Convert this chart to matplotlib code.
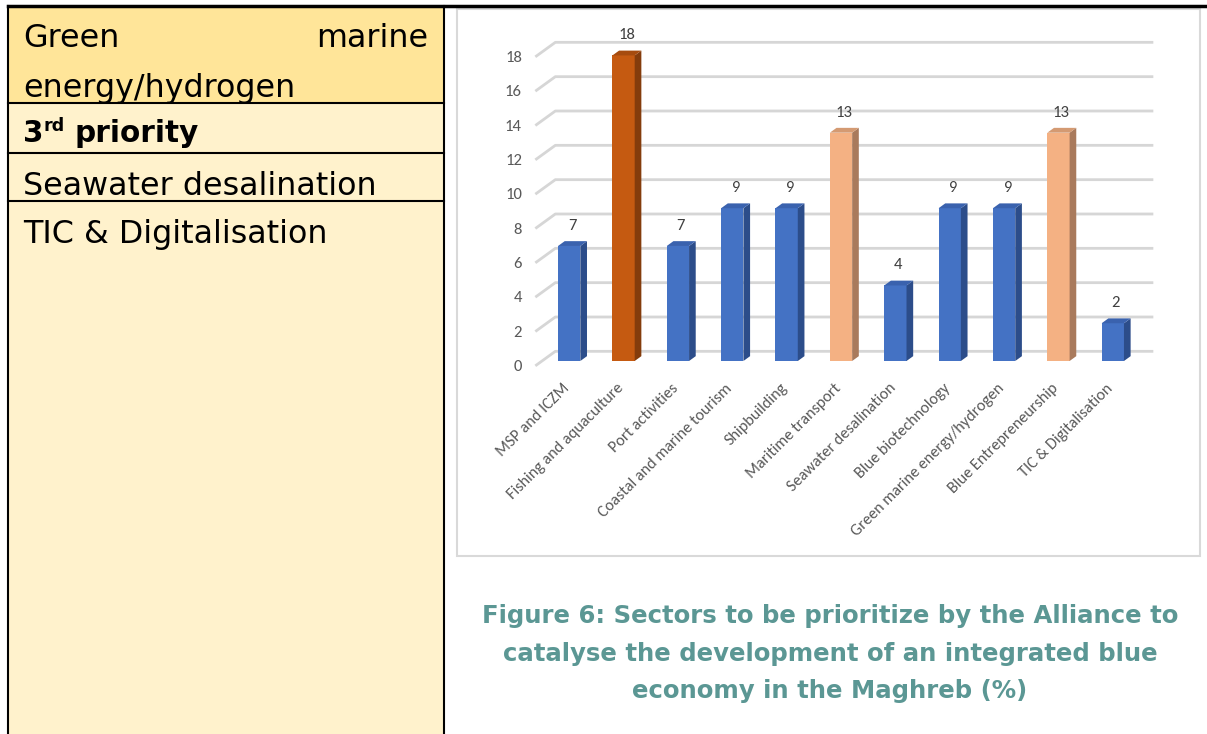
import matplotlib
matplotlib.use("Agg")  # headless
import matplotlib.pyplot as plt
from matplotlib import font_manager
from matplotlib.patches import Polygon, Rectangle

# ------------------------------------------------------------------
# Data (share of answers, %)
# ------------------------------------------------------------------
sectors = [
    "MSP and ICZM",
    "Fishing and aquaculture",
    "Port activities",
    "Coastal and marine tourism",
    "Shipbuilding",
    "Maritime transport",
    "Seawater desalination",
    "Blue biotechnology",
    "Green marine energy/hydrogen",
    "Blue Entrepreneurship",
    "TIC & Digitalisation",
]
shares = [6.7, 17.8, 6.7, 8.9, 8.9, 13.3, 4.4, 8.9, 8.9, 13.3, 2.2]
rank = ["other", "first", "other", "other", "other", "second",
        "other", "other", "other", "second", "other"]
y_ticks = [0, 2, 4, 6, 8, 10, 12, 14, 16, 18]

table_first = ("Green", "marine", "energy/hydrogen")
table_rows = ["Seawater desalination", "TIC & Digitalisation"]
caption_lines = [
    "Figure 6: Sectors to be prioritize by the Alliance to",
    "catalyse the development of an integrated blue",
    "economy in the Maghreb (%)",
]

# front / side / top colours of the 3D columns
palette = {
    "other": ("#4472C4", "#2C4D8A", "#3A62AE"),
    "first": ("#C55A11", "#843C0C", "#A64B0E"),
    "second": ("#F4B183", "#A97A5C", "#D49A72"),
}


def pick_font(names):
    for name in names:
        try:
            font_manager.findfont(name, fallback_to_default=False)
            return name
        except ValueError:
            continue
    return "DejaVu Sans"


chart_font = pick_font(["Carlito", "Lato", "Open Sans"])
doc_font = "DejaVu Sans"

W, H = 1207, 734
fig = plt.figure(figsize=(W / 100, H / 100), dpi=100)
fig.patch.set_facecolor("white")
renderer = fig.canvas.get_renderer()


def fit_size(text, width_px, **kw):
    t = fig.text(0, 0, text, fontsize=10, **kw)
    w = t.get_window_extent(renderer).width
    t.remove()
    return 10 * width_px / w


# page layer in pixel coordinates (y down)
page = fig.add_axes([0, 0, 1, 1])
page.set_xlim(0, W)
page.set_ylim(H, 0)
page.axis("off")

# ---- left table -------------------------------------------------
page.add_patch(Rectangle((8, 6), 436, 97, facecolor="#FFE599", edgecolor="none"))
page.add_patch(Rectangle((8, 103), 436, H - 103, facecolor="#FFF2CC", edgecolor="none"))
for yy in [103, 153, 201]:
    page.plot([8, 444], [yy, yy], color="black", lw=1.5)
page.plot([8, 8], [6, H], color="black", lw=1.5)
page.plot([444, 444], [6, H], color="black", lw=1.5)
page.plot([8, W], [6, 6], color="black", lw=2.5)

tsize = fit_size("Seawater desalination", 354, family=doc_font)
page.text(23, 47, table_first[0], fontsize=tsize, family=doc_font, va="baseline")
page.text(428, 47, table_first[1], fontsize=tsize, family=doc_font,
          va="baseline", ha="right")
page.text(23, 97, table_first[2], fontsize=tsize, family=doc_font, va="baseline")

t3 = page.text(23, 142, "3", fontsize=tsize * 0.93, family=doc_font,
               weight="bold", va="baseline")
x_rd = 23 + t3.get_window_extent(renderer).width
trd = page.text(x_rd, 131, "rd", fontsize=tsize * 0.55, family=doc_font,
                weight="bold", va="baseline")
x_pr = x_rd + trd.get_window_extent(renderer).width + 0.3 * tsize * 1.39
page.text(x_pr, 142, "priority", fontsize=tsize * 0.93, family=doc_font,
          weight="bold", va="baseline")

for label, base in zip(table_rows, [195, 243]):
    page.text(23, base, label, fontsize=tsize, family=doc_font, va="baseline")

# ---- chart frame and caption ------------------------------------
page.add_patch(Rectangle((457, 9), 743, 547, facecolor="white",
                         edgecolor="#D9D9D9", lw=1.5))

csize = fit_size(caption_lines[0], 699, family=doc_font, weight="bold")
for line, base in zip(caption_lines, [623, 661, 698]):
    page.text(830, base, line, fontsize=csize, family=doc_font, weight="bold",
              color="#5B9794", ha="center", va="baseline")

# ---- 3D column chart --------------------------------------------
ax = fig.add_axes([542 / W, (H - 361) / H, 598 / W, 309 / H])
ax.set_xlim(-0.5, len(sectors) - 0.5)
ax.set_ylim(0, 18)
ax.axis("off")


def px_offset(dx, dy):
    ox, oy = ax.transData.transform((0, 0))
    x, y = ax.transData.inverted().transform((ox + dx, oy + dy))
    return x, y


depth = (20.0, 14.5)  # full floor depth in pixels
fdx, fdy = px_offset(-depth[0] / 3, -depth[1] / 3)   # front edge of floor
bdx, bdy = px_offset(2 * depth[0] / 3, 2 * depth[1] / 3)  # back wall
ddx, ddy = px_offset(depth[0] / 3, depth[1] / 3)     # column depth

x0, x1 = ax.get_xlim()
for g in y_ticks:
    ax.plot([x0 + fdx, x0 + bdx, x1 + bdx], [g + fdy, g + bdy, g + bdy],
            color="#D6D6D6", lw=2, solid_capstyle="butt", clip_on=False, zorder=1)
    ax.annotate(str(g), xy=(x0, g), xytext=(-20, -6), textcoords="offset pixels",
                ha="right", va="center", fontsize=12, family=chart_font,
                color="#595959", annotation_clip=False)

bw = 0.41
fronts = [palette[r][0] for r in rank]
ax.bar(range(len(sectors)), shares, width=bw, color=fronts, zorder=3, clip_on=False)
for i, (v, r) in enumerate(zip(shares, rank)):
    side = [(i + bw / 2, 0), (i + bw / 2 + ddx, ddy),
            (i + bw / 2 + ddx, v + ddy), (i + bw / 2, v)]
    top = [(i - bw / 2, v), (i + bw / 2, v),
           (i + bw / 2 + ddx, v + ddy), (i - bw / 2 + ddx, v + ddy)]
    ax.add_patch(Polygon(side, closed=True, facecolor=palette[r][1],
                         edgecolor="none", zorder=3, clip_on=False))
    ax.add_patch(Polygon(top, closed=True, facecolor=palette[r][2],
                         edgecolor="none", zorder=3, clip_on=False))
    ax.annotate(f"{v:.0f}", xy=(i, v), xytext=(3, 20), textcoords="offset pixels",
                ha="center", va="center", fontsize=12, family=chart_font,
                color="#404040", annotation_clip=False)

xsize = fit_size("Green marine energy/hydrogen", 210, family=chart_font)
for i, name in enumerate(sectors):
    ax.annotate(name, xy=(i, 0), xytext=(-2, -25), textcoords="offset pixels",
                ha="right", va="center", rotation=45, rotation_mode="anchor",
                fontsize=xsize, family=chart_font, color="#595959",
                annotation_clip=False)

fig.savefig("out.png", dpi=100, facecolor="white")
